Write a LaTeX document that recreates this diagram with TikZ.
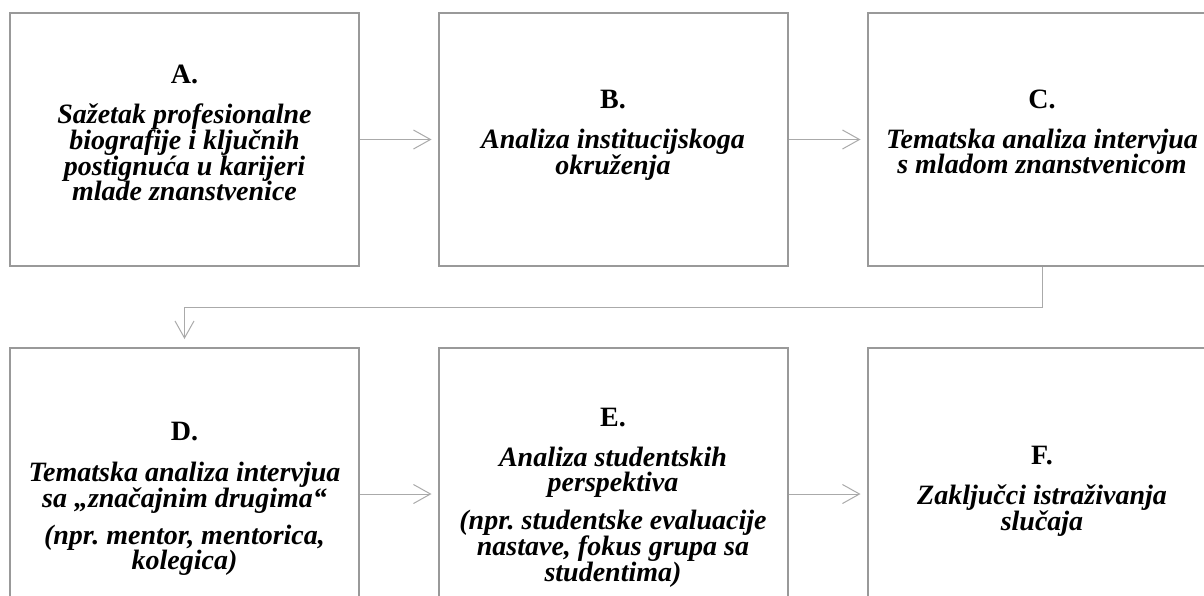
\documentclass[tikz,border=0pt]{standalone}
\usepackage{fontspec}
\setmainfont{Liberation Serif}
\usetikzlibrary{arrows.meta}
\definecolor{boxgray}{RGB}{153,153,153}
\definecolor{arrgray}{RGB}{170,170,170}
\begin{document}
\frenchspacing
\fontsize{28}{25.5}\selectfont
\begin{tikzpicture}[x=1pt,y=-1pt,
  box/.style={draw=boxgray, line width=2pt, minimum width=349pt, inner sep=0pt},
  toprow/.style={box, minimum height=253pt},
  botrow/.style={box, minimum height=292pt},
  txt/.style={align=center, anchor=north, inner sep=0pt,
    font=\fontsize{28}{25.5}\selectfont\bfseries\itshape},
  conn/.style={draw=arrgray, line width=1pt,
    -{Straight Barb[length=17pt,width=19pt,line width=1pt]}, shorten >=6pt}]
\useasboundingbox (0,0) rectangle (1204,595);
\begin{scope}
\clip (0,0) rectangle (1204,595);
\node[toprow] (A) at (184.5,139.5) {};
\node[toprow] (B) at (613,139.5) {};
\node[toprow] (C) at (1042,139.5) {};
\node[botrow] (D) at (184.5,494) {};
\node[botrow] (E) at (613,494) {};
\node[botrow] (F) at (1042,494) {};

\node[txt] (tA) at (184.5,65) {\textup{A.}\\[14pt]
  Sažetak profesionalne\\ biografije i ključnih\\ postignuća u karijeri\\ mlade znanstvenice};
\node[txt] (tB) at (613,90) {\textup{B.}\\[14pt]
  Analiza institucijskoga\\ okruženja};
\node[txt] (tC) at (1042,90) {\textup{C.}\\[14pt]
  Tematska analiza intervjua\\ s mladom znanstvenicom};
\node[txt] (tD) at (184.5,422) {\textup{D.}\\[15pt]
  Tematska analiza intervjua\\ sa „značajnim drugima“\\[11pt]
  (npr. mentor, mentorica,\\ kolegica)};
\node[txt] (tE) at (613,408) {\textup{E.}\\[14pt]
  Analiza studentskih\\ perspektiva\\[12pt]
  (npr. studentske evaluacije\\ nastave, fokus grupa sa\\ studentima)};
\node[txt] (tF) at (1042,446) {\textup{F.}\\[14pt]
  Zaključci istraživanja\\ slučaja};

\coordinate (bend) at (1042,307);
\draw[conn] (A.east) -- (B.west);
\draw[conn] (B.east) -- (C.west);
\draw[conn] (D.east) -- (E.west);
\draw[conn] (E.east) -- (F.west);
\draw[conn, shorten >=8pt] (C.south) -- (C.south |- bend) -| (D.north);
\end{scope}
\end{tikzpicture}
\end{document}
